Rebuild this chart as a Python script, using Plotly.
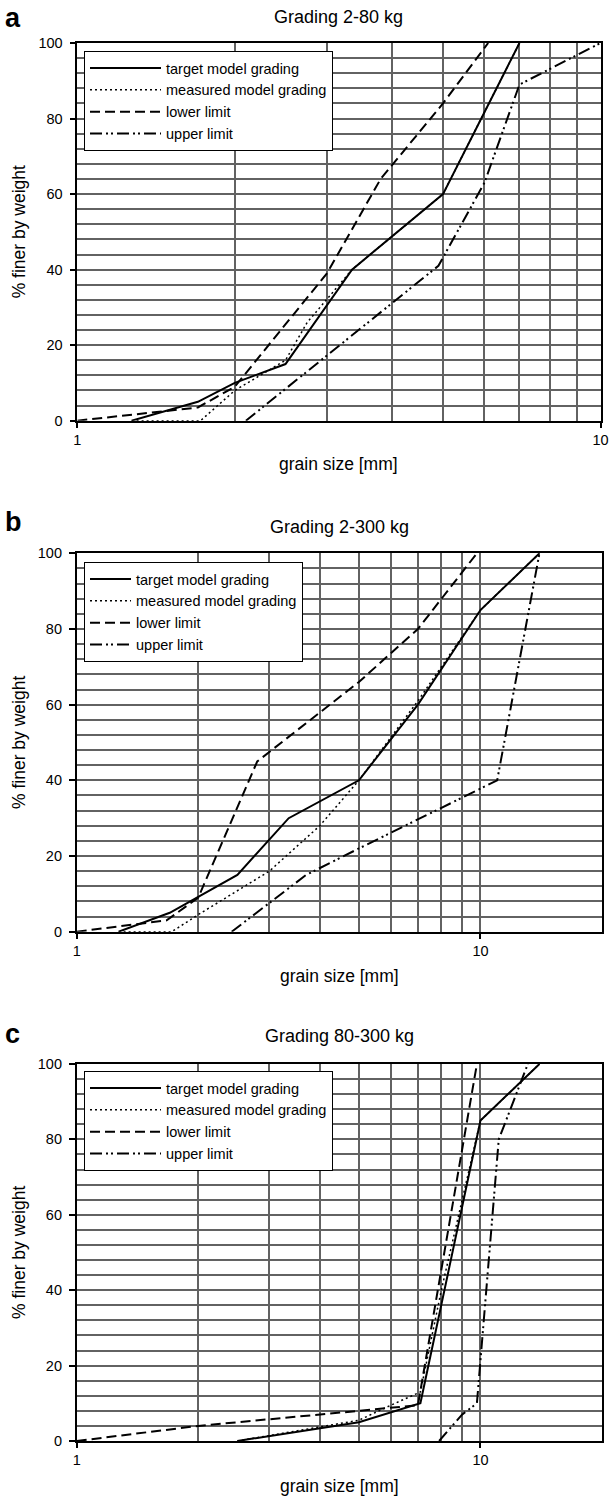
import math
import plotly.graph_objects as go

# ---------------- data ----------------
# Panel a: Grading 2-80 kg
target_a_x = [1.27, 1.7, 2.0, 2.5, 3.35, 5.0, 7.0]
target_a_y = [0, 5, 10, 15, 40, 60, 100]
measured_a_x = [1.27, 1.72, 2.0, 2.5, 2.75, 3.35, 5.0, 7.0]
measured_a_y = [0, 0, 8, 16, 26, 40, 60, 100]
lower_a_x = [1.0, 1.7, 2.0, 3.0, 3.8, 5.0, 6.1]
lower_a_y = [0, 3.5, 9, 39, 64, 84, 100]
upper_a_x = [2.1, 4.9, 6.0, 7.0, 10.0]
upper_a_y = [0, 41, 63, 89, 100]

# Panel b: Grading 2-300 kg
target_b_x = [1.27, 1.7, 2.5, 3.35, 5.0, 7.0, 10.0, 14.0]
target_b_y = [0, 5, 15, 30, 40, 60, 85, 100]
measured_b_x = [1.27, 1.72, 2.0, 3.0, 4.0, 5.0, 7.0, 10.0, 14.0]
measured_b_y = [0, 0, 4.5, 16, 28, 40, 61, 85, 100]
lower_b_x = [1.0, 1.67, 2.0, 2.8, 5.0, 7.0, 9.8]
lower_b_y = [0, 3, 9, 45, 66, 80, 100]
upper_b_x = [2.42, 3.7, 5.0, 11.0, 14.0]
upper_b_y = [0, 15, 22, 40, 100]

# Panel c: Grading 80-300 kg
target_c_x = [2.5, 5.0, 7.1, 10.0, 14.0]
target_c_y = [0, 5, 10, 85, 100]
measured_c_x = [2.5, 5.0, 6.0, 7.1, 8.0, 10.0, 14.0]
measured_c_y = [0, 5.5, 9.5, 13, 40, 85, 100]
lower_c_x = [1.0, 2.0, 5.0, 7.0, 9.8]
lower_c_y = [0, 4, 8, 9.5, 100]
upper_c_x = [7.9, 9.0, 9.8, 11.1, 13.1]
upper_c_y = [0, 7, 10, 80, 100]

series_names = ["target model grading", "measured model grading", "lower limit", "upper limit"]
panel_titles = ["Grading 2-80 kg", "Grading 2-300 kg", "Grading 80-300 kg"]
panel_letters = ["a", "b", "c"]
x_max = [10, 20, 20]
x_tick_vals = [1, 10]
x_tick_text = ["1", "10"]
y_tick_vals = [0, 20, 40, 60, 80, 100]
x_title = "grain size [mm]"
y_title = "% finer by weight"

panels_data = [
    [(target_a_x, target_a_y), (measured_a_x, measured_a_y), (lower_a_x, lower_a_y), (upper_a_x, upper_a_y)],
    [(target_b_x, target_b_y), (measured_b_x, measured_b_y), (lower_b_x, lower_b_y), (upper_b_x, upper_b_y)],
    [(target_c_x, target_c_y), (measured_c_x, measured_c_y), (lower_c_x, lower_c_y), (upper_c_x, upper_c_y)],
]

# ---------------- layout geometry (pixels) ----------------
W, H = 611, 1497
FONT = "Liberation Sans, Arial, sans-serif"


def fx(p):
    return p / W


def fy(p):
    return 1 - p / H


boxes = [  # left, right, top, bottom
    (77.3, 600.5, 43.0, 420.7),
    (76.7, 602.0, 553.3, 931.7),
    (76.7, 602.0, 1064.0, 1441.0),
]
legend_pos = [(84, 51), (84, 562), (84, 1071)]
legend_itemwidth = [71, 41, 71]
title_y = [17.5, 527, 1036]
letter_y = [18, 522, 1034]
xtitle_y = [464, 976, 1486]

styles = [
    dict(color="black", width=2, dash="solid"),
    dict(color="black", width=1.5, dash="2px,3px"),
    dict(color="black", width=2, dash="10px,5px"),
    dict(color="black", width=2, dash="12px,4px,2px,3px,2px,4px"),
]

fig = go.Figure()
layout = dict(
    width=W, height=H, margin=dict(l=0, r=0, t=0, b=0, pad=0, autoexpand=False),
    paper_bgcolor="white", plot_bgcolor="white",
    font=dict(family=FONT, color="black", size=14),
    showlegend=True,
)
annotations = []
GRID = "#626262"
GW = 1.6

for i in range(3):
    sfx = "" if i == 0 else str(i + 1)
    lname = "legend" if i == 0 else f"legend{i + 1}"
    for j, (xs, ys) in enumerate(panels_data[i]):
        fig.add_trace(go.Scatter(
            x=xs, y=ys, mode="lines", name=series_names[j],
            line=styles[j], xaxis="x" + sfx, yaxis="y" + sfx,
            legend=lname, hoverinfo="skip",
        ))
    l, r, t, b = boxes[i]
    minor_vals = list(range(2, 10))
    layout["xaxis" + sfx] = dict(
        domain=[fx(l), fx(r)], anchor="y" + sfx, type="log",
        range=[0, math.log10(x_max[i])], automargin=False,
        tickmode="array", tickvals=x_tick_vals, ticktext=x_tick_text,
        ticks="outside", ticklen=5, tickcolor="black", tickwidth=1.5,
        showgrid=True, gridcolor=GRID, gridwidth=GW,
        minor=dict(tickmode="array", tickvals=minor_vals, showgrid=True,
                   gridcolor=GRID, gridwidth=GW, ticks=""),
        showline=True, linecolor="black", linewidth=1.6, mirror=True,
        tickfont=dict(size=14.5), zeroline=False, fixedrange=True,
    )
    layout["yaxis" + sfx] = dict(
        domain=[fy(b), fy(t)], anchor="x" + sfx, range=[0, 100], automargin=False,
        tickmode="array", tickvals=y_tick_vals,
        ticks="outside", ticklen=6, tickcolor="black", tickwidth=1.5,
        showgrid=True, gridcolor=GRID, gridwidth=GW,
        minor=dict(dtick=4, tick0=0, showgrid=True, gridcolor=GRID, gridwidth=GW, ticks=""),
        showline=True, linecolor="black", linewidth=1.6, mirror=True,
        tickfont=dict(size=14.5), zeroline=False, fixedrange=True,
        ticklabelstandoff=4,
    )
    lx, ly = legend_pos[i]
    layout[lname] = dict(
        x=fx(lx), y=fy(ly), xanchor="left", yanchor="top",
        bgcolor="white", bordercolor="black", borderwidth=1,
        font=dict(size=14.5, family=FONT, color="black"),
        itemwidth=legend_itemwidth[i], tracegroupgap=0,
        itemclick=False, itemdoubleclick=False,
    )
    cx = (l + r) / 2
    annotations.append(dict(text=panel_titles[i], x=fx(cx), y=fy(title_y[i]), xref="paper", yref="paper",
                             showarrow=False, xanchor="center", yanchor="middle",
                             font=dict(size=18, family=FONT, color="black")))
    annotations.append(dict(text="<b>" + panel_letters[i] + "</b>", x=fx(3), y=fy(letter_y[i]), xref="paper",
                             yref="paper", showarrow=False, xanchor="left", yanchor="middle",
                             font=dict(size=27, family=FONT, color="black")))
    annotations.append(dict(text=x_title, x=fx(cx), y=fy(xtitle_y[i]), xref="paper", yref="paper",
                             showarrow=False, xanchor="center", yanchor="middle",
                             font=dict(size=17.5, family=FONT, color="black")))
    annotations.append(dict(text=y_title, x=fx(18.5), y=fy((t + b) / 2), xref="paper", yref="paper",
                             showarrow=False, xanchor="center", yanchor="middle", textangle=-90,
                             font=dict(size=17.5, family=FONT, color="black")))

layout["annotations"] = annotations
fig.update_layout(**layout)
fig.write_html("out.html")
